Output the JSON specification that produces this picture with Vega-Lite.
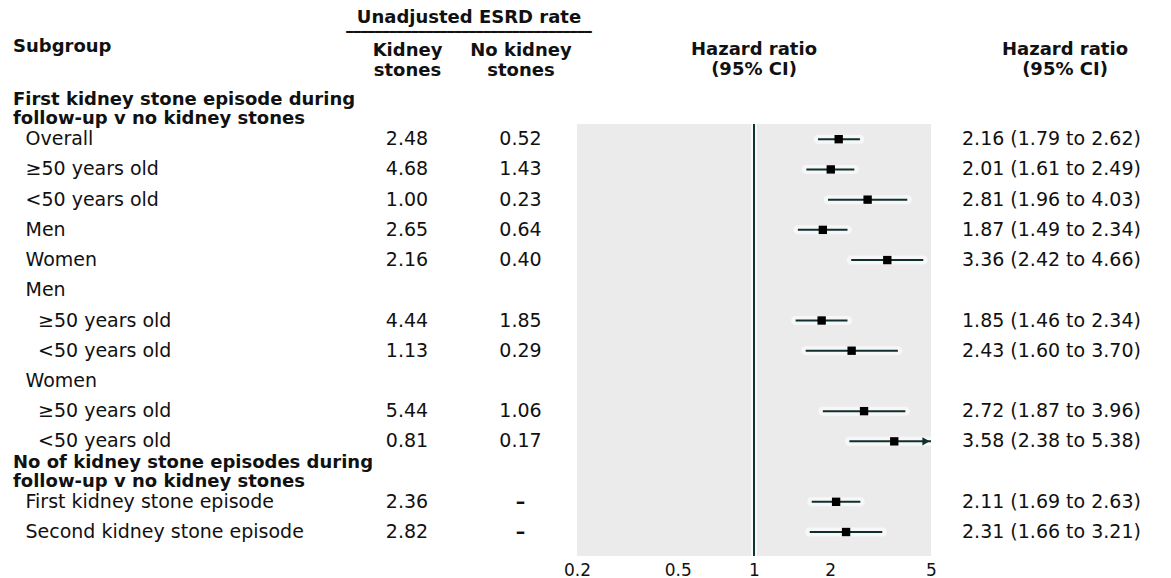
{
  "$schema": "https://vega.github.io/schema/vega-lite/v6.json",
  "background": "white",
  "padding": {"left": 0, "right": 0, "top": 9, "bottom": 0},
  "bounds": "flush",
  "spacing": 0,
  "config": {
    "view": {"stroke": null},
    "font": "DejaVu Sans",
    "text": {"font": "DejaVu Sans", "fontSize": 19, "color": "#111111"},
    "title": {"font": "DejaVu Sans", "fontSize": 18, "fontWeight": "bold", "color": "#111111", "lineHeight": 20}
  },
  "data": {"values": [
    {"row": 1, "kind": "header", "level": 0, "label": "First kidney stone episode during\nfollow-up v no kidney stones"},
    {"row": 2, "kind": "item", "level": 1, "label": "Overall", "ks": 2.48, "nks": 0.52, "hr": 2.16, "lo": 1.79, "hi": 2.62, "ci": "2.16 (1.79 to 2.62)"},
    {"row": 3, "kind": "item", "level": 1, "label": "≥50 years old", "ks": 4.68, "nks": 1.43, "hr": 2.01, "lo": 1.61, "hi": 2.49, "ci": "2.01 (1.61 to 2.49)"},
    {"row": 4, "kind": "item", "level": 1, "label": "<50 years old", "ks": 1.00, "nks": 0.23, "hr": 2.81, "lo": 1.96, "hi": 4.03, "ci": "2.81 (1.96 to 4.03)"},
    {"row": 5, "kind": "item", "level": 1, "label": "Men", "ks": 2.65, "nks": 0.64, "hr": 1.87, "lo": 1.49, "hi": 2.34, "ci": "1.87 (1.49 to 2.34)"},
    {"row": 6, "kind": "item", "level": 1, "label": "Women", "ks": 2.16, "nks": 0.40, "hr": 3.36, "lo": 2.42, "hi": 4.66, "ci": "3.36 (2.42 to 4.66)"},
    {"row": 7, "kind": "group", "level": 1, "label": "Men"},
    {"row": 8, "kind": "item", "level": 2, "label": "≥50 years old", "ks": 4.44, "nks": 1.85, "hr": 1.85, "lo": 1.46, "hi": 2.34, "ci": "1.85 (1.46 to 2.34)"},
    {"row": 9, "kind": "item", "level": 2, "label": "<50 years old", "ks": 1.13, "nks": 0.29, "hr": 2.43, "lo": 1.60, "hi": 3.70, "ci": "2.43 (1.60 to 3.70)"},
    {"row": 10, "kind": "group", "level": 1, "label": "Women"},
    {"row": 11, "kind": "item", "level": 2, "label": "≥50 years old", "ks": 5.44, "nks": 1.06, "hr": 2.72, "lo": 1.87, "hi": 3.96, "ci": "2.72 (1.87 to 3.96)"},
    {"row": 12, "kind": "item", "level": 2, "label": "<50 years old", "ks": 0.81, "nks": 0.17, "hr": 3.58, "lo": 2.38, "hi": 5.38, "ci": "3.58 (2.38 to 5.38)"},
    {"row": 13, "kind": "header", "level": 0, "label": "No of kidney stone episodes during\nfollow-up v no kidney stones"},
    {"row": 14, "kind": "item", "level": 1, "label": "First kidney stone episode", "ks": 2.36, "nks": null, "hr": 2.11, "lo": 1.69, "hi": 2.63, "ci": "2.11 (1.69 to 2.63)"},
    {"row": 15, "kind": "item", "level": 1, "label": "Second kidney stone episode", "ks": 2.82, "nks": null, "hr": 2.31, "lo": 1.66, "hi": 3.21, "ci": "2.31 (1.66 to 3.21)"}
  ]},
  "hconcat": [
    {
      "width": 350, "height": 471,
      "title": {"text": "Subgroup", "anchor": "start", "dx": 13, "offset": 11, "baseline": "bottom"},
      "encoding": {
        "y": {"field": "row", "type": "ordinal", "scale": {"type": "band", "domain": [1,2,3,4,5,6,7,8,9,10,11,12,13,14,15], "paddingInner": 0, "paddingOuter": 0.294}, "axis": null},
        "x": {"field": "level", "type": "quantitative", "scale": {"domain": [0, 28], "nice": false}, "axis": null}
      },
      "layer": [
        {
          "transform": [{"filter": "datum.kind === 'header'"}],
          "mark": {"type": "text", "align": "left", "baseline": "middle", "fontWeight": "bold", "fontSize": 18, "lineBreak": "\n", "lineHeight": 19, "dx": 13, "dy": -9},
          "encoding": {"text": {"field": "label"}}
        },
        {
          "transform": [{"filter": "datum.kind !== 'header'"}],
          "mark": {"type": "text", "align": "left", "baseline": "middle", "dx": 13},
          "encoding": {"text": {"field": "label"}}
        }
      ]
    },
    {
      "width": 114, "height": 471,
      "title": {"text": "Unadjusted ESRD rate", "subtitle": "━━━━━━━━━━━━━━━━━━━━━━━━━━━━━━━━━━", "anchor": "middle", "frame": "group", "dx": 62, "offset": -15, "baseline": "bottom", "subtitleFont": "DejaVu Sans", "subtitleFontSize": 12, "subtitleColor": "#111111", "subtitlePadding": -6},
      "transform": [{"filter": "isValid(datum.ks)"}],
      "mark": {"type": "text", "baseline": "middle"},
      "encoding": {
        "y": {"field": "row", "type": "ordinal", "scale": {"type": "band", "domain": [1,2,3,4,5,6,7,8,9,10,11,12,13,14,15], "paddingInner": 0, "paddingOuter": 0.294}, "axis": null},
        "x": {"datum": "Kidney stones", "type": "nominal", "axis": {"orient": "top", "title": null, "domain": false, "ticks": false, "tickSize": 0, "labelAngle": 0, "labelExpr": "['Kidney', 'stones']", "labelFont": "DejaVu Sans", "labelFontSize": 18, "labelFontWeight": "bold", "labelColor": "#111111", "labelLineHeight": 20, "labelPadding": 26}},
        "text": {"field": "ks", "type": "quantitative", "format": ".2f"}
      }
    },
    {
      "width": 113, "height": 471,
      "encoding": {
        "y": {"field": "row", "type": "ordinal", "scale": {"type": "band", "domain": [1,2,3,4,5,6,7,8,9,10,11,12,13,14,15], "paddingInner": 0, "paddingOuter": 0.294}, "axis": null},
        "x": {"datum": "No kidney stones", "type": "nominal", "axis": {"orient": "top", "title": null, "domain": false, "ticks": false, "tickSize": 0, "labelAngle": 0, "labelExpr": "['No kidney', 'stones']", "labelFont": "DejaVu Sans", "labelFontSize": 18, "labelFontWeight": "bold", "labelColor": "#111111", "labelLineHeight": 20, "labelPadding": 26}}
      },
      "layer": [
        {
          "transform": [{"filter": "isValid(datum.nks)"}],
          "mark": {"type": "text", "baseline": "middle"},
          "encoding": {"text": {"field": "nks", "type": "quantitative", "format": ".2f"}}
        },
        {
          "transform": [{"filter": "datum.kind === 'item' && !isValid(datum.nks)"}],
          "mark": {"type": "text", "baseline": "middle", "fontWeight": "bold", "text": "–"},
          "encoding": {}
        }
      ]
    },
    {
      "width": 354, "height": 471,
      "title": {"text": ["Hazard ratio", "(95% CI)"], "anchor": "middle", "offset": -12, "baseline": "bottom", "frame": "group"},
      "encoding": {
        "y": {"field": "row", "type": "ordinal", "scale": {"type": "band", "domain": [1,2,3,4,5,6,7,8,9,10,11,12,13,14,15], "paddingInner": 0, "paddingOuter": 0.294}, "axis": null},
        "x": {"field": "hr", "type": "quantitative",
          "scale": {"type": "log", "domain": [0.2, 5], "clamp": true, "nice": false},
          "axis": {"values": [0.2, 0.5, 1, 2, 5], "format": "~g", "title": null, "domain": false, "ticks": false, "grid": false, "labelFlush": false, "labelFont": "DejaVu Sans", "labelFontSize": 17, "labelColor": "#111111", "labelPadding": 6}
        }
      },
      "layer": [
        {
          "transform": [{"filter": "datum.row === 2"}],
          "mark": {"type": "rect", "color": "#ebebeb"},
          "encoding": {
            "x": {"datum": 0.2, "type": "quantitative"},
            "x2": {"datum": 5},
            "y": {"field": "row", "type": "ordinal", "bandPosition": 0, "scale": {"type": "band", "domain": [1,2,3,4,5,6,7,8,9,10,11,12,13,14,15], "paddingInner": 0, "paddingOuter": 0.294}, "axis": null},
            "y2": {"value": "height"}
          }
        },
        {
          "transform": [{"filter": "datum.row === 2"}],
          "mark": {"type": "rule", "color": "white", "strokeWidth": 6, "opacity": 0.7},
          "encoding": {
            "x": {"datum": 1, "type": "quantitative"},
            "y": {"field": "row", "type": "ordinal", "bandPosition": 0, "scale": {"type": "band", "domain": [1,2,3,4,5,6,7,8,9,10,11,12,13,14,15], "paddingInner": 0, "paddingOuter": 0.294}, "axis": null},
            "y2": {"value": "height"}
          }
        },
        {
          "transform": [{"filter": "datum.row === 2"}],
          "mark": {"type": "rule", "color": "#0d3535", "strokeWidth": 2},
          "encoding": {
            "x": {"datum": 1, "type": "quantitative"},
            "y": {"field": "row", "type": "ordinal", "bandPosition": 0, "scale": {"type": "band", "domain": [1,2,3,4,5,6,7,8,9,10,11,12,13,14,15], "paddingInner": 0, "paddingOuter": 0.294}, "axis": null},
            "y2": {"value": "height"}
          }
        },
        {
          "transform": [{"filter": "isValid(datum.hr)"}],
          "mark": {"type": "rule", "color": "white", "strokeWidth": 9, "strokeCap": "round", "opacity": 0.6},
          "encoding": {"x": {"field": "lo", "type": "quantitative"}, "x2": {"field": "hi"}}
        },
        {
          "transform": [{"filter": "isValid(datum.hr)"}],
          "mark": {"type": "rule", "color": "#0f2e2e", "strokeWidth": 2},
          "encoding": {"x": {"field": "lo", "type": "quantitative"}, "x2": {"field": "hi"}}
        },
        {
          "transform": [{"filter": "isValid(datum.hr)"}],
          "mark": {"type": "point", "shape": "square", "filled": true, "color": "black", "size": 70, "opacity": 1},
          "encoding": {"x": {"field": "hr", "type": "quantitative"}}
        },
        {
          "transform": [{"filter": "datum.hi > 5"}],
          "mark": {"type": "point", "shape": "triangle-right", "filled": true, "color": "#0f2e2e", "size": 70, "opacity": 1, "xOffset": -5},
          "encoding": {"x": {"field": "hi", "type": "quantitative"}}
        }
      ]
    },
    {
      "width": 240, "height": 471,
      "title": {"text": ["Hazard ratio", "(95% CI)"], "anchor": "middle", "dx": 14, "offset": -12, "baseline": "bottom"},
      "transform": [{"filter": "isValid(datum.hr)"}],
      "mark": {"type": "text", "align": "left", "baseline": "middle", "dx": -89},
      "encoding": {
        "y": {"field": "row", "type": "ordinal", "scale": {"type": "band", "domain": [1,2,3,4,5,6,7,8,9,10,11,12,13,14,15], "paddingInner": 0, "paddingOuter": 0.294}, "axis": null},
        "text": {"field": "ci"}
      }
    }
  ]
}
